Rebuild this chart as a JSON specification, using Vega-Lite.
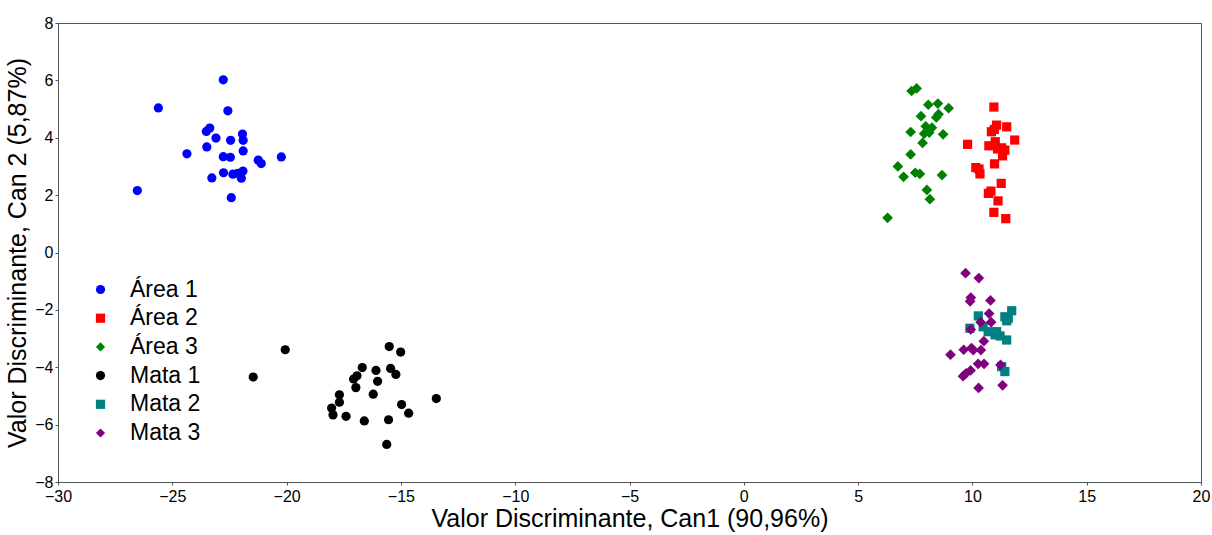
{
  "$schema": "https://vega.github.io/schema/vega-lite/v6.json",
  "width": 1143,
  "height": 459,
  "autosize": {"type": "none"},
  "padding": {"left": 58, "top": 23, "right": 11, "bottom": 53},
  "background": "white",
  "config": {
    "font": "Liberation Sans",
    "view": {"stroke": "#555555", "strokeWidth": 1},
    "axis": {"grid": false, "domainColor": "#555555", "tickColor": "#555555", "labelColor": "black", "titleColor": "black", "labelFont": "Liberation Sans", "titleFont": "Liberation Sans", "titleFontWeight": "normal"}
  },
  "data": {
    "values": [
      {"g": "Área 1", "x": -22.77, "y": 6.02},
      {"g": "Área 1", "x": -25.61, "y": 5.04},
      {"g": "Área 1", "x": -22.57, "y": 4.94},
      {"g": "Área 1", "x": -23.36, "y": 4.34},
      {"g": "Área 1", "x": -23.51, "y": 4.22},
      {"g": "Área 1", "x": -23.09, "y": 3.99},
      {"g": "Área 1", "x": -21.93, "y": 4.13},
      {"g": "Área 1", "x": -21.9, "y": 3.91},
      {"g": "Área 1", "x": -22.45, "y": 3.91},
      {"g": "Área 1", "x": -23.49, "y": 3.68},
      {"g": "Área 1", "x": -24.36, "y": 3.44},
      {"g": "Área 1", "x": -21.9, "y": 3.54},
      {"g": "Área 1", "x": -22.77, "y": 3.34},
      {"g": "Área 1", "x": -22.46, "y": 3.32},
      {"g": "Área 1", "x": -20.23, "y": 3.33},
      {"g": "Área 1", "x": -21.24, "y": 3.22},
      {"g": "Área 1", "x": -21.11, "y": 3.1},
      {"g": "Área 1", "x": -22.76, "y": 2.78},
      {"g": "Área 1", "x": -22.35, "y": 2.73},
      {"g": "Área 1", "x": -21.91, "y": 2.84},
      {"g": "Área 1", "x": -21.98, "y": 2.59},
      {"g": "Área 1", "x": -23.27, "y": 2.6},
      {"g": "Área 1", "x": -26.53, "y": 2.16},
      {"g": "Área 1", "x": -22.42, "y": 1.91},
      {"g": "Área 1", "x": -22.13, "y": 2.76},
      {"g": "Área 2", "x": 10.94, "y": 5.07},
      {"g": "Área 2", "x": 11.06, "y": 4.44},
      {"g": "Área 2", "x": 11.5, "y": 4.38},
      {"g": "Área 2", "x": 10.96, "y": 4.29},
      {"g": "Área 2", "x": 10.83, "y": 4.21},
      {"g": "Área 2", "x": 9.79, "y": 3.77},
      {"g": "Área 2", "x": 11.85, "y": 3.92},
      {"g": "Área 2", "x": 11.0, "y": 3.86},
      {"g": "Área 2", "x": 10.72, "y": 3.72},
      {"g": "Área 2", "x": 11.28, "y": 3.65},
      {"g": "Área 2", "x": 11.42, "y": 3.57},
      {"g": "Área 2", "x": 11.1, "y": 3.61},
      {"g": "Área 2", "x": 11.32, "y": 3.37},
      {"g": "Área 2", "x": 10.97, "y": 3.09},
      {"g": "Área 2", "x": 10.15, "y": 2.96},
      {"g": "Área 2", "x": 10.29, "y": 2.91},
      {"g": "Área 2", "x": 10.33, "y": 2.74},
      {"g": "Área 2", "x": 11.26, "y": 2.41},
      {"g": "Área 2", "x": 10.81, "y": 2.14},
      {"g": "Área 2", "x": 10.7, "y": 2.06},
      {"g": "Área 2", "x": 11.12, "y": 1.8},
      {"g": "Área 2", "x": 10.94, "y": 1.4},
      {"g": "Área 2", "x": 11.46, "y": 1.18},
      {"g": "Área 3", "x": 7.56, "y": 5.72},
      {"g": "Área 3", "x": 7.34, "y": 5.63},
      {"g": "Área 3", "x": 8.07, "y": 5.15},
      {"g": "Área 3", "x": 8.49, "y": 5.19},
      {"g": "Área 3", "x": 8.96, "y": 5.03},
      {"g": "Área 3", "x": 7.75, "y": 4.75},
      {"g": "Área 3", "x": 8.42, "y": 4.71},
      {"g": "Área 3", "x": 8.52, "y": 4.82},
      {"g": "Área 3", "x": 7.96, "y": 4.4},
      {"g": "Área 3", "x": 8.23, "y": 4.35},
      {"g": "Área 3", "x": 7.3, "y": 4.2},
      {"g": "Área 3", "x": 7.89, "y": 4.14},
      {"g": "Área 3", "x": 8.11, "y": 4.18},
      {"g": "Área 3", "x": 8.72, "y": 4.12},
      {"g": "Área 3", "x": 7.82, "y": 3.82},
      {"g": "Área 3", "x": 7.3, "y": 3.42},
      {"g": "Área 3", "x": 6.74, "y": 3.0},
      {"g": "Área 3", "x": 6.99, "y": 2.64},
      {"g": "Área 3", "x": 7.5, "y": 2.78},
      {"g": "Área 3", "x": 7.7, "y": 2.74},
      {"g": "Área 3", "x": 8.67, "y": 2.7},
      {"g": "Área 3", "x": 8.01, "y": 2.18},
      {"g": "Área 3", "x": 8.14, "y": 1.86},
      {"g": "Área 3", "x": 6.29, "y": 1.21},
      {"g": "Mata 1", "x": -20.06, "y": -3.39},
      {"g": "Mata 1", "x": -21.46, "y": -4.34},
      {"g": "Mata 1", "x": -15.51, "y": -3.28},
      {"g": "Mata 1", "x": -15.01, "y": -3.47},
      {"g": "Mata 1", "x": -16.69, "y": -4.01},
      {"g": "Mata 1", "x": -16.09, "y": -4.11},
      {"g": "Mata 1", "x": -15.45, "y": -4.04},
      {"g": "Mata 1", "x": -15.22, "y": -4.25},
      {"g": "Mata 1", "x": -16.92, "y": -4.3},
      {"g": "Mata 1", "x": -17.07, "y": -4.41},
      {"g": "Mata 1", "x": -16.02, "y": -4.49},
      {"g": "Mata 1", "x": -16.97, "y": -4.71},
      {"g": "Mata 1", "x": -17.69, "y": -4.96},
      {"g": "Mata 1", "x": -16.21, "y": -4.94},
      {"g": "Mata 1", "x": -17.69, "y": -5.22},
      {"g": "Mata 1", "x": -13.45, "y": -5.09},
      {"g": "Mata 1", "x": -18.03, "y": -5.42},
      {"g": "Mata 1", "x": -14.97, "y": -5.3},
      {"g": "Mata 1", "x": -14.66, "y": -5.6},
      {"g": "Mata 1", "x": -17.97, "y": -5.66},
      {"g": "Mata 1", "x": -17.4, "y": -5.71},
      {"g": "Mata 1", "x": -16.6, "y": -5.87},
      {"g": "Mata 1", "x": -15.54, "y": -5.83},
      {"g": "Mata 1", "x": -15.62, "y": -6.69},
      {"g": "Mata 2", "x": 11.72, "y": -2.03},
      {"g": "Mata 2", "x": 11.42, "y": -2.24},
      {"g": "Mata 2", "x": 11.5, "y": -2.38},
      {"g": "Mata 2", "x": 11.57, "y": -2.29},
      {"g": "Mata 2", "x": 10.26, "y": -2.21},
      {"g": "Mata 2", "x": 9.89, "y": -2.64},
      {"g": "Mata 2", "x": 10.47, "y": -2.59},
      {"g": "Mata 2", "x": 10.69, "y": -2.76},
      {"g": "Mata 2", "x": 11.06, "y": -2.76},
      {"g": "Mata 2", "x": 10.99, "y": -2.87},
      {"g": "Mata 2", "x": 11.21, "y": -2.91},
      {"g": "Mata 2", "x": 11.5, "y": -3.05},
      {"g": "Mata 2", "x": 11.28, "y": -3.98},
      {"g": "Mata 2", "x": 11.42, "y": -4.15},
      {"g": "Mata 3", "x": 9.7, "y": -0.72},
      {"g": "Mata 3", "x": 10.28, "y": -0.89},
      {"g": "Mata 3", "x": 9.93, "y": -1.57},
      {"g": "Mata 3", "x": 9.9, "y": -1.7},
      {"g": "Mata 3", "x": 10.79, "y": -1.67},
      {"g": "Mata 3", "x": 10.73, "y": -2.13},
      {"g": "Mata 3", "x": 10.36, "y": -2.43},
      {"g": "Mata 3", "x": 10.82, "y": -2.43},
      {"g": "Mata 3", "x": 9.93, "y": -2.68},
      {"g": "Mata 3", "x": 10.5, "y": -3.09},
      {"g": "Mata 3", "x": 9.62, "y": -3.39},
      {"g": "Mata 3", "x": 9.96, "y": -3.33},
      {"g": "Mata 3", "x": 10.04, "y": -3.4},
      {"g": "Mata 3", "x": 10.37, "y": -3.4},
      {"g": "Mata 3", "x": 9.04, "y": -3.56},
      {"g": "Mata 3", "x": 10.25, "y": -3.88},
      {"g": "Mata 3", "x": 10.51, "y": -3.88},
      {"g": "Mata 3", "x": 11.23, "y": -3.92},
      {"g": "Mata 3", "x": 9.92, "y": -4.11},
      {"g": "Mata 3", "x": 9.72, "y": -4.21},
      {"g": "Mata 3", "x": 9.59, "y": -4.31},
      {"g": "Mata 3", "x": 11.32, "y": -4.63},
      {"g": "Mata 3", "x": 10.27, "y": -4.72}
    ]
  },
  "mark": {"type": "point", "filled": true, "opacity": 1},
  "encoding": {
    "x": {
      "field": "x", "type": "quantitative",
      "scale": {"domain": [-30, 20], "nice": false, "zero": false},
      "axis": {"values": [-30, -25, -20, -15, -10, -5, 0, 5, 10, 15, 20], "title": "Valor Discriminante, Can1 (90,96%)", "labelFontSize": 16, "titleFontSize": 25, "tickSize": 3, "labelPadding": 3, "titlePadding": 2, "labelFlush": false}
    },
    "y": {
      "field": "y", "type": "quantitative",
      "scale": {"domain": [-8, 8], "nice": false, "zero": false},
      "axis": {"values": [-8, -6, -4, -2, 0, 2, 4, 6, 8], "title": "Valor Discriminante, Can 2 (5,87%)", "labelFontSize": 16, "titleFontSize": 25, "tickSize": 3, "labelPadding": 2, "titlePadding": 4, "labelFlush": false}
    },
    "size": {
      "condition": {"test": "datum.g === 'Área 3' || datum.g === 'Mata 3'", "value": 115},
      "value": 85
    },
    "color": {
      "field": "g", "type": "nominal",
      "scale": {"domain": ["Área 1", "Área 2", "Área 3", "Mata 1", "Mata 2", "Mata 3"], "range": ["#0000FF", "#FF0000", "#008000", "#000000", "#008080", "#800080"]},
      "legend": {"title": null, "orient": "none", "legendX": 31, "legendY": 255, "labelFontSize": 23, "labelOffset": 18, "symbolSize": 85, "rowPadding": 4.7, "padding": 0, "labelFont": "Liberation Sans"}
    },
    "shape": {
      "field": "g", "type": "nominal",
      "scale": {"domain": ["Área 1", "Área 2", "Área 3", "Mata 1", "Mata 2", "Mata 3"], "range": ["circle", "square", "diamond", "circle", "square", "diamond"]},
      "legend": {"title": null, "orient": "none", "legendX": 31, "legendY": 255, "labelFontSize": 23, "labelOffset": 18, "symbolSize": 85, "rowPadding": 4.7, "padding": 0, "labelFont": "Liberation Sans"}
    }
  }
}
